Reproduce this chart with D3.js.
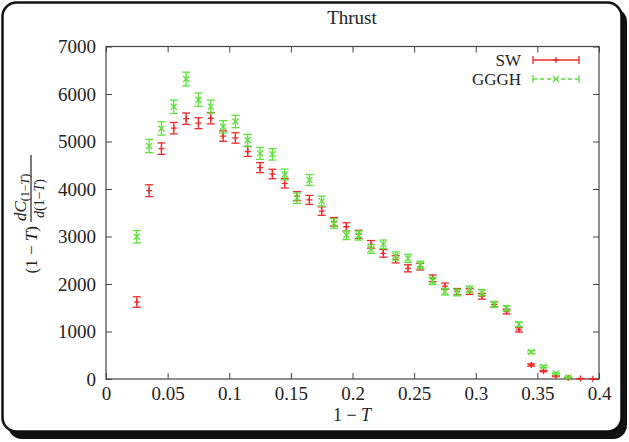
<!DOCTYPE html>
<html>
<head>
<meta charset="utf-8">
<script src="https://cdn.jsdelivr.net/npm/d3@7"></script>
<style>
  body { margin: 0; background: #fff; }
  svg text { font-family: "Liberation Serif", "DejaVu Serif", serif; fill: #222; }
</style>
</head>
<body>
<script>
// 1-T bin centres
const xValues = [0.025, 0.035, 0.045, 0.055, 0.065, 0.075, 0.085, 0.095, 0.105, 0.115,
  0.125, 0.135, 0.145, 0.155, 0.165, 0.175, 0.185, 0.195, 0.205, 0.215,
  0.225, 0.235, 0.245, 0.255, 0.265, 0.275, 0.285, 0.295, 0.305, 0.315,
  0.325, 0.335, 0.345, 0.355, 0.365, 0.375, 0.385, 0.395];

// SW
const swValues = [1620, 3965, 4850, 5280, 5480, 5385, 5490, 5115, 5075, 4790,
  4450, 4315, 4120, 3850, 3770, 3535, 3310, 3205, 3045, 2835,
  2645, 2520, 2330, 2365, 2120, 1955, 1840, 1840, 1740, 1572,
  1420, 1035, 295, 165, 60, 25, 8, 4];
const swErrors = [110, 125, 120, 120, 120, 115, 120, 110, 110, 105,
  105, 100, 100, 95, 95, 90, 90, 85, 85, 80,
  80, 75, 75, 70, 70, 65, 65, 60, 60, 55,
  50, 45, 25, 15, 10, 6, 4, 3];

// GGGH
const ggghValues = [2995, 4905, 5275, 5730, 6315, 5880, 5735, 5310, 5420, 5025,
  4750, 4730, 4305, 3805, 4190, 3745, 3275, 3030, 3020, 2735,
  2835, 2590, 2540, 2400, 2065, 1840, 1820, 1885, 1818, 1572,
  1488, 1150, 568, 260, 118, 35];
const ggghErrors = [130, 140, 140, 140, 145, 140, 135, 130, 130, 125,
  125, 120, 115, 110, 115, 105, 100, 95, 95, 90,
  90, 85, 85, 80, 75, 70, 70, 70, 65, 60,
  55, 50, 30, 20, 12, 8];

const xTicks = [0, 0.05, 0.1, 0.15, 0.2, 0.25, 0.3, 0.35, 0.4];
const xTickLabels = ["0", "0.05", "0.1", "0.15", "0.2", "0.25", "0.3", "0.35", "0.4"];
const yTicks = [0, 1000, 2000, 3000, 4000, 5000, 6000, 7000];
const yTickLabels = ["0", "1000", "2000", "3000", "4000", "5000", "6000", "7000"];

const W = 629, H = 442;
const plot = { left: 106, right: 599, top: 46.5, bottom: 379 };
const red = "#ee2a2a", green = "#5ee03a";

const svg = d3.select("body").append("svg").attr("width", W).attr("height", H);

// rounded frame with shadow
svg.append("rect").attr("x", 8).attr("y", 8).attr("width", 619).attr("height", 431)
  .attr("rx", 14).attr("fill", "#111");
svg.append("rect").attr("x", 2.5).attr("y", 2.5).attr("width", 619).attr("height", 429)
  .attr("rx", 14).attr("fill", "#fff").attr("stroke", "#111").attr("stroke-width", 2.5);

const x = d3.scaleLinear().domain([0, 0.4]).range([plot.left, plot.right]);
const y = d3.scaleLinear().domain([0, 7000]).range([plot.bottom, plot.top]);

// axes (gnuplot style: inward ticks, mirrored)
const axisStyle = g => {
  g.select(".domain").remove();
  g.selectAll(".tick line").attr("stroke", "#444");
  g.selectAll(".tick text").attr("font-size", 19).attr("fill", "#222");
};
svg.append("g").attr("transform", `translate(0,${plot.bottom})`)
  .call(d3.axisBottom(x).tickValues(xTicks).tickSize(-6).tickPadding(8)
    .tickFormat((d, i) => xTickLabels[i]))
  .call(axisStyle);
svg.append("g").attr("transform", `translate(0,${plot.top})`)
  .call(d3.axisTop(x).tickValues(xTicks).tickSize(-6).tickFormat(""))
  .call(axisStyle);
svg.append("g").attr("transform", `translate(${plot.left},0)`)
  .call(d3.axisLeft(y).tickValues(yTicks).tickSize(-6).tickPadding(10)
    .tickFormat((d, i) => yTickLabels[i]))
  .call(axisStyle);
svg.append("g").attr("transform", `translate(${plot.right},0)`)
  .call(d3.axisRight(y).tickValues(yTicks).tickSize(-6).tickFormat(""))
  .call(axisStyle);

svg.append("rect").attr("x", plot.left).attr("y", plot.top)
  .attr("width", plot.right - plot.left).attr("height", plot.bottom - plot.top)
  .attr("fill", "none").attr("stroke", "#444").attr("stroke-width", 1.2);

// title and axis labels
svg.append("text").attr("x", 352).attr("y", 24).attr("text-anchor", "middle")
  .attr("font-size", 19).text("Thrust");

const xl = svg.append("text").attr("x", 352).attr("y", 421).attr("text-anchor", "middle")
  .attr("font-size", 18);
xl.append("tspan").text("1 \u2212 ");
xl.append("tspan").attr("font-style", "italic").text("T");

// y label: (1 - T) dC_(1-T) / d(1-T), rotated
const yl = svg.append("g").attr("transform", "translate(31,222) rotate(-90)");
const yt = yl.append("text").attr("x", -4).attr("y", 6).attr("text-anchor", "end").attr("font-size", 17);
yt.append("tspan").text("(1 \u2212 ");
yt.append("tspan").attr("font-style", "italic").text("T");
yt.append("tspan").text(")");
yl.append("line").attr("x1", 0).attr("x2", 67).attr("y1", 0).attr("y2", 0)
  .attr("stroke", "#222").attr("stroke-width", 1.2);
const num = yl.append("text").attr("x", 1).attr("y", -5).attr("font-size", 17);
num.append("tspan").attr("font-style", "italic").text("dC");
num.append("tspan").attr("font-size", 12).attr("dy", 3).text("(1\u2212");
num.append("tspan").attr("font-size", 12).attr("font-style", "italic").text("T");
num.append("tspan").attr("font-size", 12).text(")");
const den = yl.append("text").attr("x", 4).attr("y", 13).attr("font-size", 14);
den.append("tspan").attr("font-style", "italic").text("d");
den.append("tspan").text("(1\u2212");
den.append("tspan").attr("font-style", "italic").text("T");
den.append("tspan").text(")");

// error bars
const cap = 4;
function drawSeries(vals, errs, color, marker) {
  const data = vals.map((v, i) => ({ x: xValues[i], v: v, e: errs[i] }));
  const g = svg.append("g").attr("stroke", color).attr("stroke-width", 1.3).attr("fill", "none");
  const pt = g.selectAll("g").data(data).join("g")
    .attr("transform", d => `translate(${x(d.x)},0)`);
  pt.append("line").attr("x1", 0).attr("x2", 0)
    .attr("y1", d => y(d.v - d.e)).attr("y2", d => y(d.v + d.e));
  pt.append("line").attr("x1", -cap).attr("x2", cap)
    .attr("y1", d => y(d.v - d.e)).attr("y2", d => y(d.v - d.e));
  pt.append("line").attr("x1", -cap).attr("x2", cap)
    .attr("y1", d => y(d.v + d.e)).attr("y2", d => y(d.v + d.e));
  pt.append("path").attr("d", d => marker(0, y(d.v)));
}
const plus = (cx, cy) => `M${cx - 3},${cy}H${cx + 3}M${cx},${cy - 3}V${cy + 3}`;
const cross = (cx, cy) => `M${cx - 3},${cy - 3}L${cx + 3},${cy + 3}M${cx - 3},${cy + 3}L${cx + 3},${cy - 3}`;

drawSeries(swValues, swErrors, red, plus);
drawSeries(ggghValues, ggghErrors, green, cross);

// legend
const legend = [
  { name: "SW", color: red, marker: plus, dash: null, y: 60 },
  { name: "GGGH", color: green, marker: cross, dash: "4,3", y: 79 }
];
legend.forEach(l => {
  svg.append("text").attr("x", 521).attr("y", l.y + 6).attr("text-anchor", "end")
    .attr("font-size", 17).text(l.name);
  const g = svg.append("g").attr("stroke", l.color).attr("stroke-width", 1.3).attr("fill", "none");
  g.append("line").attr("x1", 533).attr("x2", 579).attr("y1", l.y).attr("y2", l.y)
    .attr("stroke-dasharray", l.dash);
  g.append("line").attr("x1", 533).attr("x2", 533).attr("y1", l.y - 4).attr("y2", l.y + 4);
  g.append("line").attr("x1", 579).attr("x2", 579).attr("y1", l.y - 4).attr("y2", l.y + 4);
  g.append("path").attr("d", l.marker(556, l.y));
});
</script>
</body>
</html>
